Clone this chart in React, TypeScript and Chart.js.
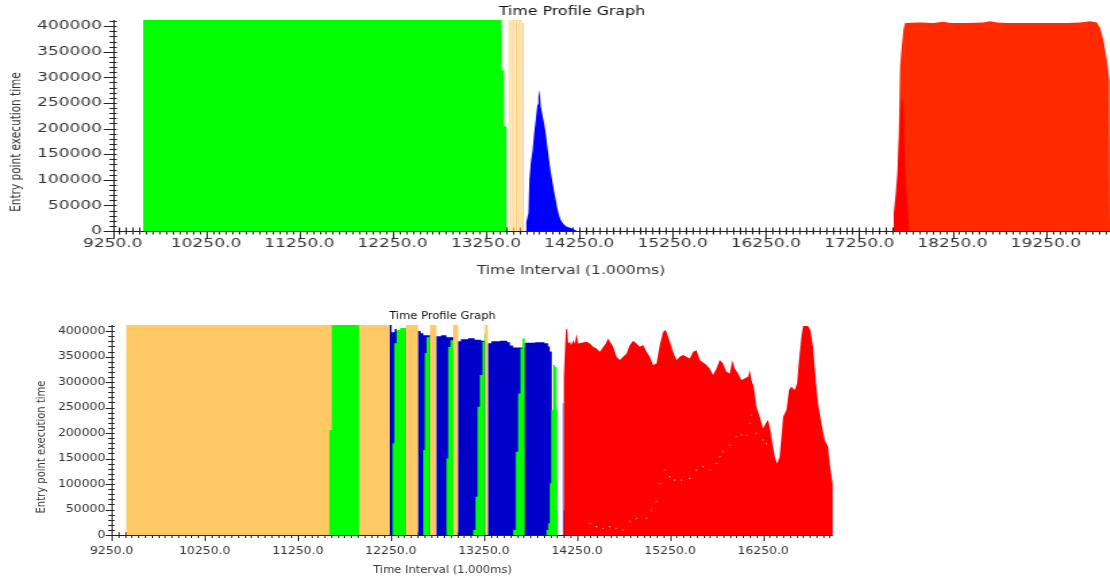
import React, { useEffect, useRef } from "react";
import { Chart, registerables } from "chart.js";

Chart.register(...registerables);

const FONT = '"DejaVu Sans", "Noto Sans", sans-serif';

// ---------------- text ----------------
const TITLE = "Time Profile Graph";
const X_TITLE = "Time Interval (1.000ms)";
const Y_TITLE = "Entry point execution time";

// ---------------- ticks ----------------
const TOP_X_TICKS = [9250, 10250, 11250, 12250, 13250, 14250, 15250, 16250, 17250, 18250, 19250];
const BOT_X_TICKS = [9250, 10250, 11250, 12250, 13250, 14250, 15250, 16250];
const Y_TICKS = [0, 50000, 100000, 150000, 200000, 250000, 300000, 350000, 400000];
const Y_MAX = 412000;
const TOP_X_RANGE = [9250, 19935];
const BOT_X_RANGE = [9250, 17000];

// ---------------- top chart series: [time, value] ----------------
const FULL = 412000;
const topOrange: [number, number][] = [
  [13490, FULL], [13504, 0], [13519, FULL], [13533, 0], [13544, FULL], [13558, 0],
  [13569, FULL], [13583, 0], [13594, FULL], [13608, 0], [13619, FULL], [13633, 0],
  [13644, 405900], [13658, 0],
];
const topGreen: [number, number][] = [[9575, FULL], [13419, 313700], [13444, 204500], [13473, 0]];
const topBlue: [number, number][] = [
  [13676, 0], [13680, 16000], [13705, 35000], [13715, 100000], [13730, 133000], [13748, 155000],
  [13766, 191000], [13784, 218000], [13801, 247000], [13812, 262000], [13819, 276000],
  [13830, 262000], [13837, 244000], [13855, 227000], [13873, 211000], [13891, 191000],
  [13908, 165000], [13926, 139000], [13944, 116000], [13962, 97000], [13980, 77000],
  [13998, 61000], [14015, 44500], [14033, 31000], [14051, 21500], [14080, 13700],
  [14116, 8400], [14151, 6500], [14187, 4000], [14223, 0],
];
const topRedMain: [number, number][] = [
  [17640, 0], [17645, 40000], [17659, 61000], [17677, 224000], [17688, 322000], [17707, 361000],
  [17724, 394000], [17742, 405900], [17903, 407200], [18045, 405900], [18153, 408500],
  [18224, 405900], [18403, 405900], [18581, 407200], [18653, 409800], [18725, 407200],
  [18832, 405900], [19046, 405900], [19261, 405900], [19475, 405900], [19618, 407200],
  [19725, 409800], [19797, 407200], [19832, 397000], [19867, 374000], [19904, 335000],
  [19930, 296000], [19935, 0],
];
const topRedSpike: [number, number][] = [
  [17617, 0], [17620, 35000], [17642, 74000], [17659, 113000], [17677, 178000], [17691, 218000],
  [17707, 257000], [17717, 267000], [17728, 212000], [17739, 146000], [17753, 87000],
  [17767, 48000], [17777, 25000], [17788, 0],
];

// ---------------- bottom chart series ----------------
const botOrange: [number, number][] = [
  [9404, FULL], [11613, 0], [11910, FULL], [12239, 0], [12411, FULL], [12543, 0],
  [12669, FULL], [12740, 0], [12919, FULL], [12973, 0], [13259, FULL], [13295, 0],
];
const botBlue: [number, number][] = [
  [12239, FULL], [12257, 398000], [12290, 404000], [12311, 400000], [12411, 0],
  [12543, 400000], [12570, 396000], [12600, 392000], [12669, 0],
  [12740, 390000], [12790, 392000], [12848, 388000], [12919, 0],
  [12973, 380000], [13000, 384000], [13080, 386000], [13150, 383000], [13220, 381000], [13259, 0],
  [13295, 376000], [13330, 380000], [13420, 381000], [13500, 378000], [13530, 372000],
  [13564, 368000], [13689, 377000], [13800, 378000], [13900, 376000], [13940, 370000],
  [13958, 360000], [13979, 0],
  [14101, 259000], [14108, 49000], [14155, 0],
];
const botGreen: [number, number][] = [
  [11587, 206000], [11613, FULL], [11910, 0],
  [12268, 180000], [12286, 376000], [12311, 402000], [12350, 406000], [12411, 0],
  [12597, 167000], [12615, 357000], [12633, 388000], [12669, 0],
  [12848, 150000], [12866, 369000], [12890, 382000], [12919, 0],
  [13134, 9800], [13159, 75100], [13181, 251700], [13206, 313700], [13234, 379100], [13252, 395400], [13259, 0],
  [13564, 9800], [13592, 163400], [13617, 277800], [13642, 366000], [13664, 385600], [13689, 0],
  [13922, 9800], [13940, 22900], [13958, 101300], [13975, 245100], [13993, 333300],
  [14011, 330000], [14029, 245100], [14040, 49000], [14047, 0],
];
const botRed: [number, number][] = [
  [14106, 0], [14108, 310400], [14130, 402000], [14144, 405200], [14154, 375800], [14173, 379100],
  [14191, 372600], [14208, 382400], [14226, 375800], [14245, 394100], [14262, 375800],
  [14352, 379100], [14387, 375800], [14423, 369300], [14459, 366000], [14495, 359500],
  [14559, 375800], [14584, 385600], [14638, 369300], [14674, 349700], [14710, 343100],
  [14745, 349700], [14782, 356200], [14817, 372600], [14853, 381100], [14889, 375800],
  [14924, 369300], [14960, 372600], [14997, 359500], [15032, 349700], [15067, 333300],
  [15104, 336600], [15139, 372600], [15175, 398700], [15204, 402000], [15229, 388900],
  [15254, 375800], [15282, 359500], [15319, 343100], [15354, 349700], [15390, 352900],
  [15426, 349700], [15462, 346400], [15497, 359500], [15534, 362700], [15569, 343100],
  [15641, 333300], [15676, 326800], [15712, 313700], [15748, 326800], [15784, 343100],
  [15819, 336600], [15856, 320300], [15891, 317000], [15920, 343100], [15945, 326800],
  [15980, 317000], [16017, 303900], [16088, 310400], [16106, 323500], [16124, 303900],
  [16149, 290900], [16178, 251700], [16213, 232000], [16249, 209100], [16278, 219000],
  [16303, 225500], [16328, 205900], [16350, 179700], [16375, 153600], [16399, 140500],
  [16428, 153600], [16447, 192800], [16464, 232000], [16500, 245100], [16528, 284300],
  [16554, 290900], [16589, 284300], [16614, 297400], [16635, 343100], [16661, 388900],
  [16679, 409800], [16732, 409800], [16758, 402000], [16786, 369300], [16815, 303900],
  [16840, 258200], [16876, 219000], [16911, 186300], [16947, 173200], [16965, 140500],
  [16995, 101300], [16999, 101300], [17000, 0],
];
const botWhite: [number, number][] = [
  [14387, 22900], [14459, 16300], [14530, 13100], [14602, 16300], [14674, 13100],
  [14745, 9800], [14817, 26100], [14889, 32700], [14997, 32700], [15050, 49000],
  [15104, 65400], [15139, 101300], [15193, 127500], [15247, 114400], [15300, 107800],
  [15372, 107800], [15462, 111100], [15534, 127500], [15604, 134000], [15676, 127500],
  [15748, 140500], [15784, 153600], [15819, 163400], [15891, 176500], [15962, 192800],
  [16017, 196100], [16070, 196100], [16106, 219000], [16124, 235300], [16178, 199300],
  [16249, 186300], [16285, 179700],
];

// ---------------- helpers ----------------
const pts = (a: [number, number][]) => a.map(([x, y]) => ({ x, y }));
const area = (data: [number, number][], color: string, order: number, stepped = true) => ({
  data: pts(data),
  backgroundColor: color,
  borderColor: "rgba(0,0,0,0)",
  borderWidth: 0,
  fill: "origin",
  stepped,
  tension: 0,
  pointRadius: 0,
  order,
});

const axisDecor = {
  id: "axisDecor",
  beforeDatasetsDraw(chart: any, _a: any, o: any) {
    const { ctx, chartArea: ca } = chart;
    const xs = chart.scales.x;
    const ys = chart.scales.y;
    ctx.save();
    ctx.strokeStyle = "#222";
    ctx.lineWidth = 1;
    ctx.beginPath();
    for (let i = 0; ; i++) {
      const v = 10000 * i;
      if (v > ys.max) break;
      const major = i % 5 === 0;
      const p = Math.round(ys.getPixelForValue(v)) + 0.5;
      ctx.moveTo(ca.left - (major ? o.yMajOut : o.yMinOut), p);
      ctx.lineTo(ca.left + o.yIn, p);
    }
    for (let i = 0; ; i++) {
      const v = xs.min + (1000 / 14) * i;
      if (v > xs.max + 1e-6) break;
      const major = i % 14 === 0;
      const p = Math.round(xs.getPixelForValue(v)) + 0.5;
      ctx.moveTo(p, ca.bottom - o.xIn);
      ctx.lineTo(p, ca.bottom + (major ? o.xMajOut : o.xMinOut));
    }
    ctx.stroke();
    ctx.restore();
  },
  afterDatasetsDraw(chart: any) {
    const { ctx, chartArea: ca } = chart;
    ctx.save();
    ctx.strokeStyle = "#222";
    ctx.lineWidth = 1;
    ctx.beginPath();
    ctx.moveTo(Math.round(ca.left) + 0.5, ca.top);
    ctx.lineTo(Math.round(ca.left) + 0.5, Math.round(ca.bottom) + 0.5);
    ctx.lineTo(ca.right, Math.round(ca.bottom) + 0.5);
    ctx.stroke();
    ctx.restore();
  },
  afterDraw(chart: any, _a: any, o: any) {
    const { ctx } = chart;
    ctx.save();
    ctx.textAlign = "center";
    ctx.textBaseline = "middle";
    ctx.fillStyle = "#111";
    ctx.font = `${o.title.size}px ${FONT}`;
    ctx.fillText(TITLE, o.title.x, o.title.y);
    ctx.fillStyle = "#333";
    ctx.font = `${o.xTitle.size}px ${FONT}`;
    ctx.fillText(X_TITLE, o.xTitle.x, o.xTitle.y);
    ctx.font = `${o.yTitle.size}px ${FONT}`;
    ctx.translate(o.yTitle.x, o.yTitle.y);
    ctx.rotate(-Math.PI / 2);
    ctx.fillText(Y_TITLE, 0, 0);
    ctx.restore();
  },
};

type Panel = {
  top: number;
  width: number;
  height: number;
  sx: number;
  yAxisWidth: number;
  xAxisHeight: number;
  padTop: number;
  padRight: number;
  xRange: number[];
  xTicks: number[];
  tickSize: number;
  yPad: number;
  xPad: number;
  decor: any;
  datasets: any[];
};

const TOP_PANEL: Panel = {
  top: 0,
  width: 822,
  height: 290,
  sx: 1.35,
  yAxisWidth: 83.5,
  xAxisHeight: 59,
  padTop: 20,
  padRight: 0,
  xRange: TOP_X_RANGE,
  xTicks: TOP_X_TICKS,
  tickSize: 12.6,
  yPad: 8,
  xPad: 5,
  decor: {
    yMajOut: 6.7, yMinOut: 2.5, yIn: 3, xMajOut: 8, xMinOut: 3.5, xIn: 3.5,
    title: { x: 423.7, y: 12, size: 11.7 },
    xTitle: { x: 423, y: 271, size: 11.6 },
    yTitle: { x: 11.9, y: 142, size: 10.5 },
  },
  datasets: [
    area(topRedSpike, "#FF0000", 1, false),
    area(topRedMain, "#FF2A00", 2, false),
    area(topBlue, "#0000FF", 3, false),
    area(topGreen, "#00FF00", 4),
    area(topOrange, "#FFC966", 5),
  ],
};

const BOT_PANEL: Panel = {
  top: 300,
  width: 965,
  height: 285,
  sx: 1.15,
  yAxisWidth: 97.1,
  xAxisHeight: 50,
  padTop: 25,
  padRight: 240.7,
  xRange: BOT_X_RANGE,
  xTicks: BOT_X_TICKS,
  tickSize: 10.8,
  yPad: 5.5,
  xPad: 10,
  decor: {
    yMajOut: 5.2, yMinOut: 3, yIn: 2.6, xMajOut: 6, xMinOut: 3, xIn: 3,
    title: { x: 384.8, y: 16, size: 10 },
    xTitle: { x: 384.8, y: 270, size: 10 },
    yTitle: { x: 36.5, y: 147, size: 10 },
  },
  datasets: [
    {
      data: pts(botWhite),
      showLine: false,
      fill: false,
      pointRadius: 0.6,
      pointBorderWidth: 0,
      pointBackgroundColor: "#FFFFFF",
      borderColor: "rgba(0,0,0,0)",
      order: 0,
    },
    area(botRed, "#FF0000", 1, false),
    area(botGreen, "#00FF00", 2),
    area(botBlue, "#0000C8", 3),
    area(botOrange, "#FFC966", 4),
  ],
};

function ChartPanel({ p }: { p: Panel }) {
  const ref = useRef<HTMLCanvasElement>(null);
  useEffect(() => {
    const chart = new Chart(ref.current as HTMLCanvasElement, {
      type: "line",
      data: { datasets: p.datasets },
      options: {
        animation: false,
        responsive: false,
        devicePixelRatio: 1,
        layout: { padding: { top: p.padTop, right: p.padRight, left: 0, bottom: 0 } },
        plugins: {
          legend: { display: false },
          tooltip: { enabled: false },
          title: { display: false },
          axisDecor: p.decor,
        } as any,
        scales: {
          x: {
            type: "linear",
            min: p.xRange[0],
            max: p.xRange[1],
            grid: { display: false, drawTicks: false },
            border: { display: false },
            afterBuildTicks: (s: any) => {
              s.ticks = p.xTicks.map((v) => ({ value: v }));
            },
            afterFit: (s: any) => {
              s.height = p.xAxisHeight;
            },
            ticks: {
              autoSkip: false,
              maxRotation: 0,
              padding: p.xPad,
              color: "#333",
              font: { family: FONT, size: p.tickSize },
              callback: (v: any) => Number(v).toFixed(1),
            },
          },
          y: {
            type: "linear",
            min: 0,
            max: Y_MAX,
            grid: { display: false, drawTicks: false },
            border: { display: false },
            afterBuildTicks: (s: any) => {
              s.ticks = Y_TICKS.map((v) => ({ value: v }));
            },
            afterFit: (s: any) => {
              s.width = p.yAxisWidth;
            },
            ticks: {
              padding: p.yPad,
              color: "#333",
              font: { family: FONT, size: p.tickSize },
              callback: (v: any) => String(v),
            },
          },
        },
      } as any,
      plugins: [axisDecor as any],
    });
    return () => chart.destroy();
  }, []);
  return (
    <div
      style={{
        position: "absolute",
        left: 0,
        top: p.top,
        width: p.width,
        height: p.height,
        transform: `scaleX(${p.sx})`,
        transformOrigin: "0 0",
      }}
    >
      <canvas ref={ref} width={p.width} height={p.height} style={{ display: "block" }} />
    </div>
  );
}

export default function App() {
  return (
    <div
      style={{
        position: "absolute",
        left: 0,
        top: 0,
        width: 1110,
        height: 585,
        overflow: "hidden",
        background: "#FFFFFF",
      }}
    >
      <ChartPanel p={TOP_PANEL} />
      <ChartPanel p={BOT_PANEL} />
    </div>
  );
}
